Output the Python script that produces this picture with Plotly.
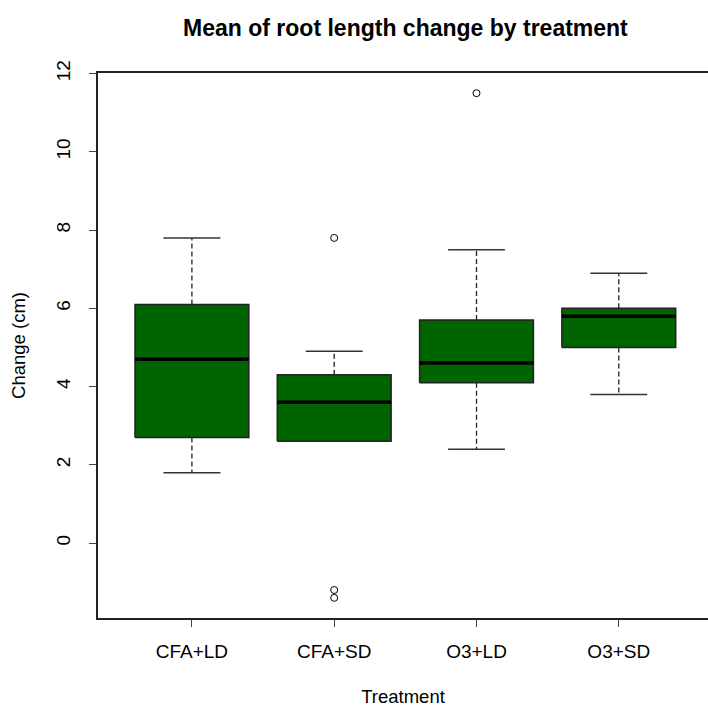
import plotly.graph_objects as go

# ---- data ----
categories = ["CFA+LD", "CFA+SD", "O3+LD", "O3+SD"]
lower_whisker = [1.8, 2.6, 2.4, 3.8]
q1 = [2.7, 2.6, 4.1, 5.0]
median = [4.7, 3.6, 4.6, 5.8]
q3 = [6.1, 4.3, 5.7, 6.0]
upper_whisker = [7.8, 4.9, 7.5, 6.9]
outlier_group = ["CFA+SD", "CFA+SD", "CFA+SD", "O3+LD"]
outlier_value = [7.8, -1.2, -1.4, 11.5]
y_ticks = [0, 2, 4, 6, 8, 10, 12]

# ---- style ----
BOX_HALF = 0.4
STAPLE_HALF = 0.2
FILL = "#006400"
EDGE = "#222222"
FONT = "Liberation Sans, Arial, sans-serif"

fig = go.Figure()
pos = {c: i + 1 for i, c in enumerate(categories)}

for i, c in enumerate(categories):
    x = pos[c]
    # dashed whiskers
    fig.add_trace(go.Scatter(
        x=[x, x, None, x, x],
        y=[q3[i], upper_whisker[i], None, q1[i], lower_whisker[i]],
        mode="lines", line=dict(color=EDGE, width=1.3, dash="5px,3px"),
        hoverinfo="skip", showlegend=False))
    # staples
    fig.add_trace(go.Scatter(
        x=[x - STAPLE_HALF, x + STAPLE_HALF, None, x - STAPLE_HALF, x + STAPLE_HALF],
        y=[upper_whisker[i], upper_whisker[i], None, lower_whisker[i], lower_whisker[i]],
        mode="lines", line=dict(color="#333333", width=1.5),
        hoverinfo="skip", showlegend=False))
    # box
    fig.add_trace(go.Scatter(
        x=[x - BOX_HALF, x + BOX_HALF, x + BOX_HALF, x - BOX_HALF, x - BOX_HALF],
        y=[q1[i], q1[i], q3[i], q3[i], q1[i]],
        mode="lines", fill="toself", fillcolor=FILL,
        line=dict(color=EDGE, width=1.5),
        hoverinfo="skip", showlegend=False))
    # median
    fig.add_trace(go.Scatter(
        x=[x - BOX_HALF, x + BOX_HALF], y=[median[i], median[i]],
        mode="lines", line=dict(color="black", width=3.5),
        hoverinfo="skip", showlegend=False))

# outliers
fig.add_trace(go.Scatter(
    x=[pos[g] for g in outlier_group], y=outlier_value,
    mode="markers",
    marker=dict(symbol="circle-open", size=7, color="black", line=dict(width=1)),
    hoverinfo="skip", showlegend=False))

fig.update_layout(
    width=708, height=707,
    margin=dict(l=98, r=0, t=73, b=89),
    paper_bgcolor="white", plot_bgcolor="white",
    font=dict(family=FONT, size=19, color="black"),
    title=dict(text="<b>Mean of root length change by treatment</b>",
               xref="paper", x=0.504, xanchor="center",
               yref="container", y=0.961, yanchor="middle",
               font=dict(size=23, family=FONT, color="black")),
    xaxis=dict(range=[0.34, 4.627], tickmode="array",
               tickvals=[pos[c] for c in categories], ticktext=categories,
               showline=True, mirror=True, linecolor="#222222", linewidth=1.5,
               ticks="outside", ticklen=7, tickwidth=1.3, tickcolor="#444444",
               ticklabelstandoff=8, automargin=False,
               showgrid=False, zeroline=False,
               title=dict(text="Treatment", standoff=40, font=dict(size=18.5))),
    yaxis=dict(range=[-1.916, 12.016], tickmode="array", tickvals=y_ticks,
               ticktext=[str(v) for v in y_ticks], tickangle=-90,
               showline=True, mirror=False, linecolor="#222222", linewidth=1.5,
               ticks="outside", ticklen=7, tickwidth=1.3, tickcolor="#444444",
               ticklabelstandoff=12, automargin=False,
               showgrid=False, zeroline=False,
               title=dict(text="Change (cm)", standoff=22, font=dict(size=18.5))),
)

fig.write_html(
    "out.html",
    config={"displayModeBar": False},
    post_script="document.body.style.margin='0';document.body.style.overflow='hidden';",
)
